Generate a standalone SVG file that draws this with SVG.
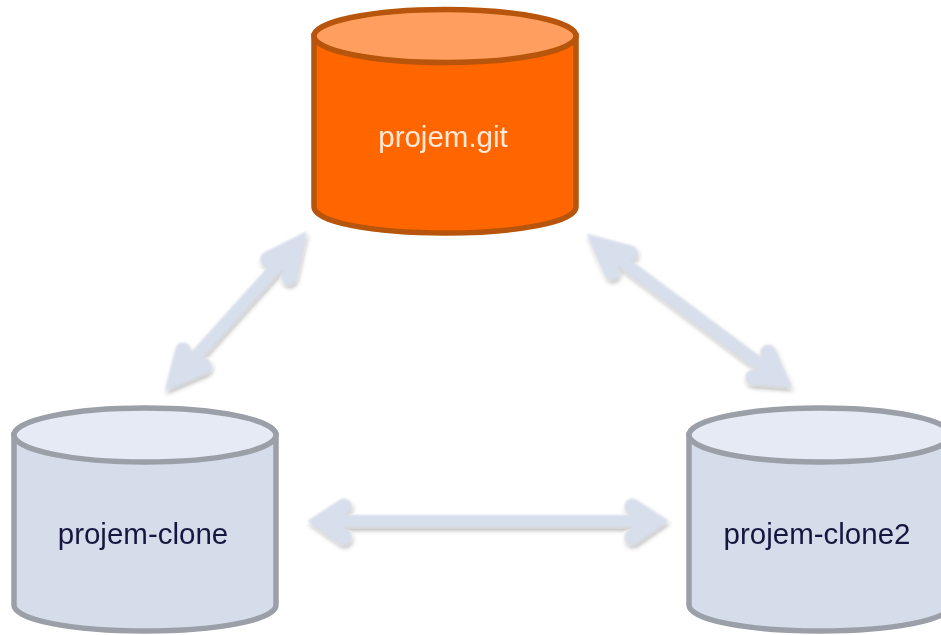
<svg xmlns="http://www.w3.org/2000/svg" width="941" height="635" viewBox="0 0 941 635">
<style>
.body{stroke-width:5.5}
.orange .body{fill:#ff6600;stroke:#b85408}
.orange .top{fill:#ff9e5e;stroke:#b85408;stroke-width:5.5}
.gray .body{fill:#d5dcea;stroke:#9a9fa8}
.gray .top{fill:#e6eaf4;stroke:#9a9fa8;stroke-width:5.5}
text{font-family:"Liberation Sans",Arial,sans-serif;font-size:29.5px;text-anchor:middle}
.orange text{fill:#ffe9d8}
.gray text{fill:#17173f}
.arrow{fill:none;stroke:#d8dfec}
.shaft{stroke-width:12;stroke-linecap:butt}
.head{stroke-width:15;stroke-linecap:round;stroke-linejoin:miter}
</style>
<defs>
<filter id="soft" x="-5%" y="-5%" width="110%" height="110%"><feGaussianBlur stdDeviation="0.7"/></filter>
<filter id="shadow" x="-20%" y="-20%" width="140%" height="140%">
<feGaussianBlur in="SourceGraphic" stdDeviation="0.8" result="b"/>
<feGaussianBlur in="SourceAlpha" stdDeviation="2.5"/>
<feOffset dx="1" dy="3"/>
<feComponentTransfer><feFuncA type="linear" slope="0.35"/></feComponentTransfer>
<feMerge><feMergeNode/><feMergeNode in="b"/></feMerge>
</filter>
</defs>
<rect width="941" height="635" fill="#ffffff"/>
<g id="connectors" filter="url(#shadow)">
<g class="arrow">
<path class="shaft" d="M322 521H654"/>
<path class="head" d="M344 506L321 521L344 537"/>
<path class="head" d="M632 506L655 521L632 537"/>
</g>
<g class="arrow">
<path class="shaft" d="M176 378L296 245"/>
<path class="head" d="M183 350L176 378L204 366"/>
<path class="head" d="M268 259L296 245L289 277"/>
</g>
<g class="arrow">
<path class="shaft" d="M600 245L780 379"/>
<path class="head" d="M630 253L600 245L612 272"/>
<path class="head" d="M753 377L780 379L768 352"/>
</g>
</g>
<g id="node-projem-git" class="orange" filter="url(#soft)">
<path class="body" d="M314 36V207C314 222 373 233 445 233S576 222 576 207V36Z"/>
<ellipse class="top" cx="445" cy="36" rx="131" ry="26.5"/>
<text x="443" y="147">projem.git</text>
</g>
<g id="node-projem-clone" class="gray" filter="url(#soft)">
<path class="body" d="M14 435V605C14 620 73 631 145 631S276 620 276 605V435Z"/>
<ellipse class="top" cx="145" cy="435" rx="131" ry="27"/>
<text x="143" y="543.5">projem-clone</text>
</g>
<g id="node-projem-clone2" class="gray" filter="url(#soft)">
<path class="body" d="M689 435V605C689 620 748 631 820 631S951 620 951 605V435Z"/>
<ellipse class="top" cx="820" cy="435" rx="131" ry="27"/>
<text x="817" y="543.5">projem-clone2</text>
</g>
</svg>
